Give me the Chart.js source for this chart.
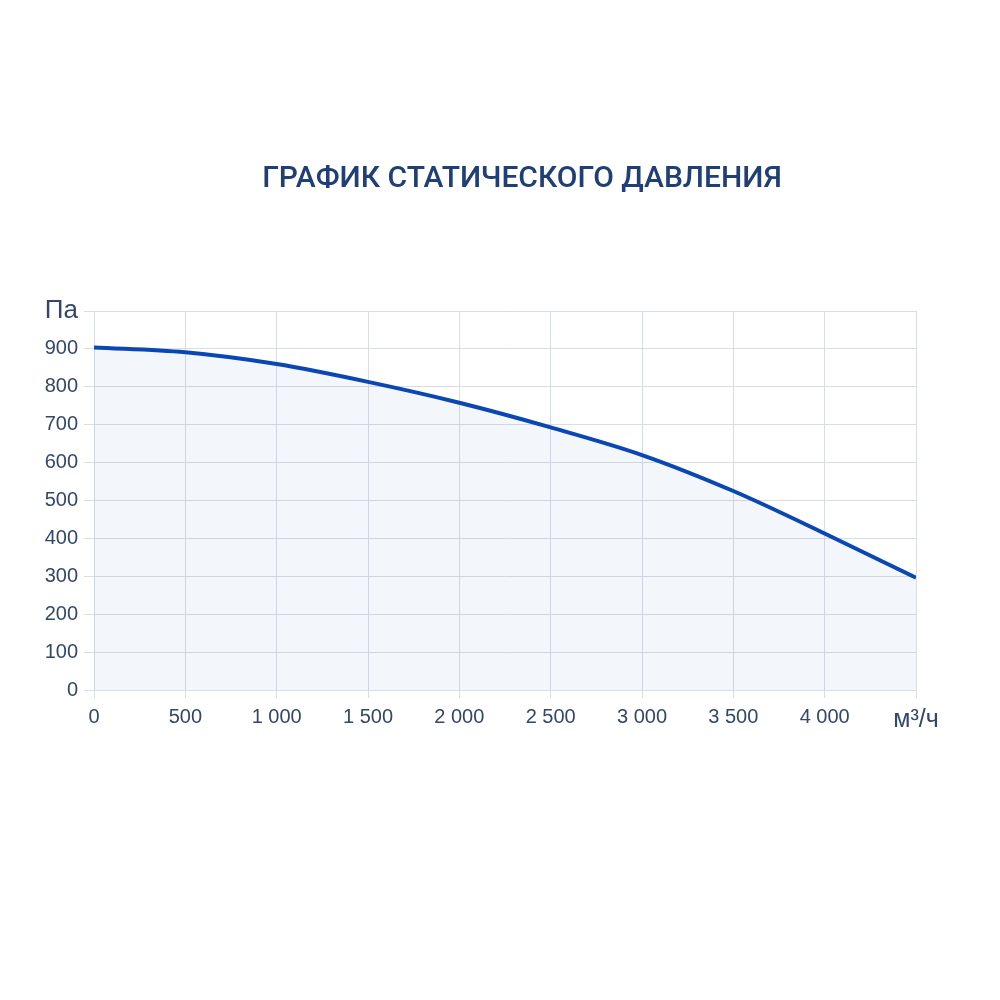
<!DOCTYPE html>
<html><head><meta charset="utf-8">
<script src="https://cdn.jsdelivr.net/npm/chart.js@4"></script>
<style>html,body{margin:0;padding:0;background:#fff;}#wrap{width:1000px;height:1000px;}</style>
</head><body><div id="wrap"><canvas id="c" width="1000" height="1000"></canvas></div>
<script>
const flowValues = [0, 500, 1000, 1500, 2000, 2500, 3000, 3500, 4000, 4500];
const pressureValues = [904, 891, 860, 813, 758, 693, 620, 525, 413, 296];
const titleText = 'ГРАФИК СТАТИЧЕСКОГО ДАВЛЕНИЯ';
const yUnit = 'Па';
const xUnit = 'м³/ч';

const fmt = v => String(v).replace(/\B(?=(\d{3})+(?!\d))/g, ' ');
const tickColor = '#34476b';
const gridColor = '#d9dde4';

const titlePlugin = {
  id: 'centerTitle',
  afterDraw(chart) {
    const ctx = chart.ctx;
    ctx.save();
    ctx.font = '500 30px Roboto';
    ctx.fillStyle = '#1f3f75';
    ctx.textAlign = 'center';
    ctx.textBaseline = 'middle';
    ctx.fillText(titleText, 522, 179);
    ctx.restore();
  }
};

new Chart(document.getElementById('c'), {
  type: 'line',
  data: {
    datasets: [{
      data: flowValues.map((x, i) => ({x: x, y: pressureValues[i]})),
      borderColor: '#0b47b3',
      borderWidth: 4,
      backgroundColor: 'rgba(40,90,190,0.055)',
      fill: 'origin',
      pointRadius: 0,
      cubicInterpolationMode: 'monotone'
    }]
  },
  plugins: [titlePlugin],
  options: {
    responsive: false,
    animation: false,
    layout: {padding: {top: 311, right: 84, left: 0, bottom: 0}},
    plugins: {
      legend: {display: false},
      tooltip: {enabled: false},
      title: {display: false}
    },
    scales: {
      x: {
        type: 'linear', min: 0, max: 4500,
        afterFit: s => { s.height = 310; },
        border: {color: gridColor},
        grid: {color: gridColor, tickLength: 8, drawTicks: true},
        ticks: {
          stepSize: 500, color: tickColor, padding: 7, maxRotation: 0,
          font: ctx => (ctx.tick && ctx.tick.value === 4500) ? {family: 'Liberation Sans', size: 25} : {family: 'Liberation Sans', size: 20},
          callback: v => v === 4500 ? xUnit : fmt(v)
        }
      },
      y: {
        min: 0, max: 1000,
        afterFit: s => { s.width = 94; },
        border: {color: gridColor},
        grid: {color: gridColor, tickLength: 10},
        ticks: {
          stepSize: 100, color: tickColor, padding: 6,
          font: ctx => (ctx.tick && ctx.tick.value === 1000) ? {family: 'Liberation Sans', size: 26} : {family: 'Liberation Sans', size: 20},
          callback: v => v === 1000 ? yUnit : fmt(v)
        }
      }
    }
  }
});
</script></body></html>
